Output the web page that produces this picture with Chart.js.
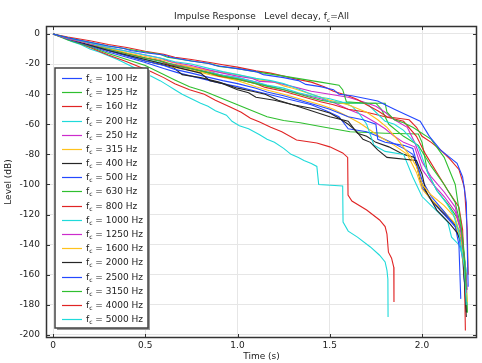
<!DOCTYPE html>
<html>
<head>
<meta charset="utf-8">
<script src="https://cdn.jsdelivr.net/npm/chart.js@4.4.0/dist/chart.umd.min.js"></script>
<style>
  html, body { margin: 0; padding: 0; background: #fff; }
</style>
</head>
<body>
<canvas id="chart" width="482" height="363"></canvas>
<script>
// Band centre frequencies (Hz)
const freqs = [100, 125, 160, 200, 250, 315, 400, 500, 630, 800, 1000, 1250, 1600, 2000, 2500, 3150, 4000, 5000];

// Level decay curves, [time (s), level (dB)]
const f100 = [[0,0],[0.08,-2.5],[0.18,-5],[0.3,-8],[0.38,-9.5],[0.42,-11],[0.5,-12.5],[0.6,-14],[0.64,-15.5],[0.75,-18],[0.84,-19.5],[0.88,-21],[1.0,-23],[1.1,-25],[1.14,-27],[1.25,-29],[1.33,-31],[1.37,-33.5],[1.45,-35],[1.52,-37],[1.55,-40],[1.62,-41],[1.7,-43],[1.76,-44.5],[1.8,-47],[1.85,-50],[1.92,-54],[1.99,-58],[2.04,-68],[2.1,-77],[2.15,-82],[2.19,-86],[2.22,-95],[2.24,-112],[2.245,-140],[2.25,-168]];
const f125 = [[0,0],[0.08,-2.5],[0.2,-5.5],[0.3,-8],[0.4,-10],[0.5,-12],[0.58,-13.5],[0.62,-15.5],[0.75,-18],[0.86,-20],[0.9,-21.5],[1.0,-23],[1.12,-25.5],[1.25,-28],[1.35,-30],[1.45,-32],[1.55,-34],[1.57,-37],[1.59,-45],[1.7,-46],[1.8,-46],[1.81,-52],[1.85,-57],[1.9,-59],[1.95,-62],[2.05,-70],[2.12,-82],[2.18,-100],[2.21,-125],[2.23,-150],[2.24,-170]];
const f160 = [[0,0],[0.08,-2],[0.2,-4.5],[0.3,-7],[0.4,-9],[0.5,-11.5],[0.6,-13.5],[0.66,-15.5],[0.75,-17],[0.85,-19],[0.92,-20.5],[1.0,-22],[1.1,-24.5],[1.18,-26],[1.25,-28],[1.32,-30],[1.4,-32],[1.47,-35],[1.52,-38],[1.6,-41],[1.65,-43.5],[1.7,-47],[1.76,-51],[1.81,-55],[1.93,-57],[1.97,-62],[2.0,-68],[2.05,-72],[2.1,-77],[2.15,-83],[2.2,-90],[2.23,-102],[2.245,-130],[2.25,-160]];
const f200 = [[0,0],[0.08,-2.5],[0.2,-6],[0.3,-9],[0.4,-11.5],[0.5,-14],[0.6,-16.5],[0.66,-18.5],[0.75,-20],[0.85,-23],[0.92,-25],[1.0,-27],[1.1,-29.5],[1.18,-31],[1.25,-33],[1.32,-36],[1.38,-39],[1.45,-42],[1.5,-45],[1.6,-45.5],[1.7,-46],[1.75,-52],[1.8,-58],[1.85,-60],[1.9,-64],[1.98,-75],[2.03,-92],[2.08,-104],[2.13,-112],[2.17,-120],[2.2,-132],[2.23,-155],[2.24,-180]];
const f250 = [[0,0],[0.08,-3],[0.2,-6.5],[0.3,-9],[0.4,-11.5],[0.5,-14],[0.58,-16],[0.64,-18.5],[0.75,-21],[0.85,-24],[0.92,-26],[1.0,-28],[1.08,-29.5],[1.12,-31.5],[1.2,-32],[1.3,-35],[1.4,-38],[1.5,-40],[1.6,-42],[1.68,-45],[1.75,-48],[1.8,-52],[1.85,-57],[1.92,-62],[1.96,-72],[2.0,-85],[2.05,-95],[2.12,-105],[2.18,-115],[2.21,-130],[2.23,-150],[2.24,-172]];
const f315 = [[0,0],[0.08,-3],[0.2,-6.5],[0.3,-9.5],[0.4,-12.5],[0.5,-15],[0.6,-17.5],[0.68,-20],[0.75,-22],[0.85,-24.5],[0.92,-25.5],[1.0,-27],[1.12,-30.5],[1.2,-32],[1.25,-34.5],[1.3,-36],[1.4,-40],[1.5,-44],[1.6,-47],[1.7,-52],[1.76,-57],[1.81,-62],[1.88,-72],[1.94,-82],[1.97,-88],[2.0,-100],[2.05,-107],[2.12,-114],[2.18,-122],[2.21,-135],[2.23,-155],[2.245,-178]];
const f400 = [[0,0],[0.08,-3],[0.2,-7.5],[0.3,-11],[0.4,-14],[0.5,-17],[0.6,-20],[0.7,-23],[0.8,-26],[0.85,-31],[0.92,-33],[1.0,-37],[1.06,-39],[1.1,-42],[1.2,-44],[1.3,-47],[1.43,-50],[1.5,-52.5],[1.55,-56],[1.6,-60],[1.64,-64],[1.68,-70],[1.72,-72],[1.76,-77],[1.81,-82],[1.97,-84],[2.0,-93],[2.02,-104],[2.08,-117],[2.15,-126],[2.19,-132],[2.22,-141],[2.24,-185]];
const f500 = [[0,0],[0.08,-3],[0.2,-7.5],[0.3,-11],[0.4,-14.5],[0.5,-18],[0.6,-21],[0.66,-23.5],[0.75,-26],[0.85,-29],[0.92,-31],[1.0,-33],[1.1,-36],[1.16,-38.5],[1.25,-41],[1.35,-44.5],[1.42,-47],[1.5,-50],[1.6,-55],[1.68,-57],[1.75,-60],[1.76,-70],[1.8,-72],[1.9,-74],[1.95,-76],[1.97,-85],[2.0,-97],[2.05,-108],[2.12,-118],[2.18,-128],[2.2,-140],[2.21,-176]];
const f630 = [[0,0],[0.08,-3],[0.2,-7],[0.3,-10],[0.4,-13],[0.5,-16],[0.6,-18.5],[0.67,-21],[0.75,-23],[0.85,-26],[0.92,-28],[1.0,-30],[1.1,-33],[1.17,-35],[1.25,-37],[1.35,-40.5],[1.45,-44],[1.55,-46],[1.75,-46],[1.78,-50],[1.82,-60],[1.9,-68],[1.98,-74],[2.05,-88],[2.12,-100],[2.18,-112],[2.21,-128],[2.23,-150],[2.245,-185]];
const f800 = [[0,0],[0.08,-3],[0.2,-7],[0.3,-10],[0.4,-13],[0.5,-16],[0.58,-18],[0.63,-20.5],[0.75,-23],[0.85,-26],[0.9,-28],[1.0,-30],[1.1,-33],[1.15,-35.5],[1.25,-38],[1.35,-41.5],[1.45,-45],[1.52,-47],[1.6,-50],[1.7,-52],[1.8,-55],[1.9,-58],[1.97,-68],[2.02,-80],[2.08,-92],[2.14,-104],[2.2,-115],[2.22,-130],[2.23,-160],[2.235,-197]];
const f1000 = [[0,0],[0.08,-3],[0.2,-7],[0.3,-10.5],[0.4,-14],[0.5,-17],[0.6,-19.5],[0.68,-21.5],[0.75,-23],[0.85,-25.5],[0.92,-27.5],[1.0,-29],[1.1,-32],[1.16,-34],[1.25,-36],[1.33,-39],[1.4,-41],[1.5,-43],[1.56,-45],[1.62,-48],[1.66,-53],[1.7,-60],[1.74,-74],[1.8,-78],[1.9,-80],[1.95,-95],[2.0,-108],[2.1,-120],[2.14,-125],[2.16,-135],[2.2,-140],[2.23,-150],[2.24,-158]];
const f1250 = [[0,0],[0.08,-3],[0.2,-7],[0.3,-10],[0.4,-13],[0.5,-16],[0.58,-17.5],[0.62,-19.5],[0.75,-22],[0.84,-24.5],[0.9,-27],[1.0,-29],[1.1,-32],[1.16,-34.5],[1.25,-37],[1.35,-40],[1.45,-43],[1.53,-46],[1.6,-50],[1.68,-54],[1.75,-59],[1.8,-63],[1.85,-68],[1.9,-72],[1.96,-75],[2.0,-90],[2.06,-100],[2.12,-108],[2.18,-118],[2.21,-130],[2.23,-150],[2.245,-170]];
const f1600 = [[0,0],[0.08,-3],[0.2,-7.5],[0.3,-11],[0.4,-14],[0.5,-17],[0.6,-20],[0.67,-22.5],[0.75,-24],[0.85,-27],[0.93,-29],[1.0,-31],[1.1,-35],[1.17,-37.5],[1.25,-40],[1.35,-43.5],[1.45,-47],[1.52,-50],[1.6,-55],[1.66,-59],[1.72,-64],[1.78,-69],[1.85,-74],[1.92,-80],[1.97,-92],[2.0,-103],[2.05,-110],[2.12,-118],[2.18,-126],[2.21,-138],[2.23,-160],[2.24,-178]];
const f2000 = [[0,0],[0.08,-3],[0.2,-7.5],[0.3,-11],[0.4,-14.5],[0.5,-18],[0.65,-22],[0.7,-27],[0.8,-29],[0.9,-32],[1.0,-36],[1.08,-38],[1.15,-40],[1.22,-44],[1.3,-47],[1.4,-51],[1.5,-55],[1.6,-58],[1.65,-66],[1.7,-68],[1.75,-72],[1.82,-75],[1.9,-80],[1.96,-82],[1.99,-97],[2.03,-107],[2.1,-117],[2.16,-124],[2.2,-130],[2.22,-142],[2.24,-188]];
const f2500 = [[0,0],[0.08,-3.5],[0.2,-8],[0.3,-12],[0.4,-15.5],[0.5,-19],[0.6,-23],[0.67,-25.5],[0.75,-28],[0.85,-31],[0.92,-33],[1.0,-35],[1.1,-38],[1.2,-41],[1.3,-44],[1.4,-47],[1.48,-51],[1.55,-55],[1.6,-63],[1.7,-65],[1.78,-69],[1.85,-73],[1.9,-76],[1.95,-80],[1.98,-90],[2.0,-102],[2.06,-112],[2.12,-120],[2.18,-128],[2.2,-135],[2.22,-150],[2.23,-165]];
const f3150 = [[0,0],[0.08,-4],[0.2,-8.5],[0.3,-13],[0.4,-17],[0.5,-21],[0.6,-27],[0.66,-30.5],[0.74,-35],[0.82,-38],[0.9,-42],[0.98,-46],[1.06,-50],[1.16,-55],[1.25,-57.5],[1.34,-59],[1.45,-61.5],[1.61,-65],[1.8,-66],[1.98,-66.5],[2.0,-72],[2.03,-92],[2.08,-104],[2.14,-113],[2.19,-122],[2.22,-135],[2.24,-160],[2.245,-185]];
const f4000 = [[0,0],[0.1,-4],[0.2,-9],[0.3,-14],[0.4,-18.5],[0.53,-25],[0.6,-29],[0.66,-33],[0.74,-37],[0.82,-40],[0.88,-44],[0.96,-48.5],[1.02,-52],[1.07,-56],[1.12,-58.5],[1.18,-62],[1.24,-65],[1.32,-70.4],[1.43,-72.4],[1.5,-75],[1.57,-79],[1.597,-82],[1.599,-107],[1.62,-111],[1.7,-117],[1.77,-123.6],[1.8,-128],[1.81,-133],[1.818,-145],[1.835,-149],[1.847,-155],[1.848,-178]];
const f5000 = [[0,0],[0.05,-2],[0.1,-5],[0.15,-7],[0.2,-10],[0.25,-12],[0.3,-14.5],[0.35,-17],[0.4,-20],[0.45,-23],[0.5,-26],[0.53,-28],[0.58,-31],[0.62,-34],[0.66,-37],[0.7,-40],[0.75,-43],[0.8,-46],[0.84,-48],[0.88,-51],[0.94,-54],[0.97,-58],[1.01,-61],[1.06,-63],[1.12,-67],[1.16,-70],[1.2,-72],[1.25,-76],[1.29,-80],[1.33,-82],[1.36,-84],[1.4,-86],[1.43,-88],[1.44,-100],[1.57,-101],[1.572,-125],[1.6,-131],[1.65,-135],[1.72,-141.5],[1.77,-147],[1.8,-151.5],[1.81,-157],[1.815,-163],[1.816,-188]];

const curves = [f100, f125, f160, f200, f250, f315, f400, f500, f630, f800, f1000, f1250, f1600, f2000, f2500, f3150, f4000, f5000];

// Axis ticks
const xTicks = [0, 0.5, 1, 1.5, 2];
const yTicks = [0, -20, -40, -60, -80, -100, -120, -140, -160, -180, -200];

// Colour cycle
const cycle = ["#2448ff", "#2fbf2f", "#e02424", "#1fdada", "#cc2ccc", "#ffc21c", "#262626"];

const FONT = "DejaVu Sans";

// draws "f" + subscript "c" + rest, returns the width
function subText(ctx, x, y, before, sub, after, size, draw) {
  ctx.font = size + "px '" + FONT + "'";
  const w1 = ctx.measureText(before).width;
  const w3 = ctx.measureText(after).width;
  ctx.font = Math.round(size * 0.7) + "px '" + FONT + "'";
  const w2 = ctx.measureText(sub).width;
  if (draw) {
    ctx.font = size + "px '" + FONT + "'";
    ctx.fillText(before, x, y);
    ctx.font = Math.round(size * 0.7) + "px '" + FONT + "'";
    ctx.fillText(sub, x + w1, y + 3);
    ctx.font = size + "px '" + FONT + "'";
    ctx.fillText(after, x + w1 + w2, y);
  }
  return w1 + w2 + w3;
}

const framePlugin = {
  id: "frame",
  afterDatasetsDraw(chart) {
    const { ctx, chartArea: a, scales: { x, y } } = chart;
    ctx.save();
    ctx.strokeStyle = "#333";
    ctx.lineWidth = 1;
    ctx.beginPath();
    xTicks.forEach(v => {
      const px = Math.round(x.getPixelForValue(v)) + 0.5;
      ctx.moveTo(px, a.bottom); ctx.lineTo(px, a.bottom - 4);
      ctx.moveTo(px, a.top); ctx.lineTo(px, a.top + 4);
    });
    yTicks.forEach(v => {
      const py = Math.round(y.getPixelForValue(v)) + 0.5;
      ctx.moveTo(a.left, py); ctx.lineTo(a.left + 4, py);
      ctx.moveTo(a.right, py); ctx.lineTo(a.right - 4, py);
    });
    ctx.stroke();
    ctx.lineWidth = 1.5;
    ctx.strokeRect(a.left + 0.5, a.top + 0.5, a.width - 1, a.height - 1);
    ctx.restore();
  },
  afterDraw(chart) {
    const { ctx, chartArea: a } = chart;
    ctx.save();
    ctx.fillStyle = "#222";
    ctx.textBaseline = "middle";
    // title
    const t1 = "Impulse Response   Level decay, f";
    const tw = subText(ctx, 0, 0, t1, "c", "=All", 9, false);
    subText(ctx, (a.left + a.right) / 2 - tw / 2, 17, t1, "c", "=All", 9, true);

    // legend box
    const bx = 55, by = 68, bw = 93, bh = 260;
    ctx.fillStyle = "#9a9a9a";
    ctx.fillRect(bx + 2, by + 2, bw, bh);
    ctx.fillStyle = "#fff";
    ctx.fillRect(bx, by, bw, bh);
    ctx.strokeStyle = "#444";
    ctx.lineWidth = 1.5;
    ctx.strokeRect(bx, by, bw, bh);
    freqs.forEach((f, i) => {
      const ly = Math.round(78 + i * 14.18) + 0.5;
      ctx.strokeStyle = cycle[i % cycle.length];
      ctx.lineWidth = 1.2;
      ctx.beginPath();
      ctx.moveTo(62, ly); ctx.lineTo(82, ly);
      ctx.stroke();
      ctx.fillStyle = "#222";
      subText(ctx, 86, ly, "f", "c", " = " + f + " Hz", 9, true);
    });
    ctx.restore();
  }
};

const datasets = curves.map((c, i) => ({
  label: "fc = " + freqs[i] + " Hz",
  data: c.map(p => ({ x: p[0], y: p[1] })),
  borderColor: cycle[i % cycle.length],
  borderWidth: 1.1,
  pointRadius: 0,
  fill: false,
  tension: 0,
}));

const config = {
  type: "line",
  data: { datasets: datasets },
  options: {
    responsive: false,
    animation: false,
    layout: { padding: { top: 26, right: 5, left: 0, bottom: 0 } },
    plugins: {
      legend: { display: false },
      tooltip: { enabled: false },
    },
    scales: {
      x: {
        type: "linear",
        min: -0.038,
        max: 2.298,
        afterFit(scale) { scale.height = 25; },
        border: { display: false },
        grid: { color: "#e6e6e6", drawTicks: false },
        ticks: {
          stepSize: 0.5,
          includeBounds: false,
          padding: 2,
          color: "#222",
          font: { family: FONT, size: 9 },
        },
        title: {
          display: true,
          text: "Time (s)",
          color: "#222",
          padding: { top: 0, bottom: 1 },
          font: { family: FONT, size: 9 },
        },
      },
      y: {
        min: -202,
        max: 5.3,
        afterFit(scale) { scale.width = 46; },
        border: { display: false },
        grid: { color: "#e6e6e6", drawTicks: false },
        ticks: {
          stepSize: 20,
          includeBounds: false,
          padding: 6,
          color: "#222",
          font: { family: FONT, size: 9 },
        },
        title: {
          display: true,
          text: "Level (dB)",
          color: "#222",
          padding: { top: 3, bottom: 0 },
          font: { family: FONT, size: 9 },
        },
      },
    },
  },
  plugins: [framePlugin],
};

const decayChart = new Chart(document.getElementById("chart"), config);
</script>
</body>
</html>
